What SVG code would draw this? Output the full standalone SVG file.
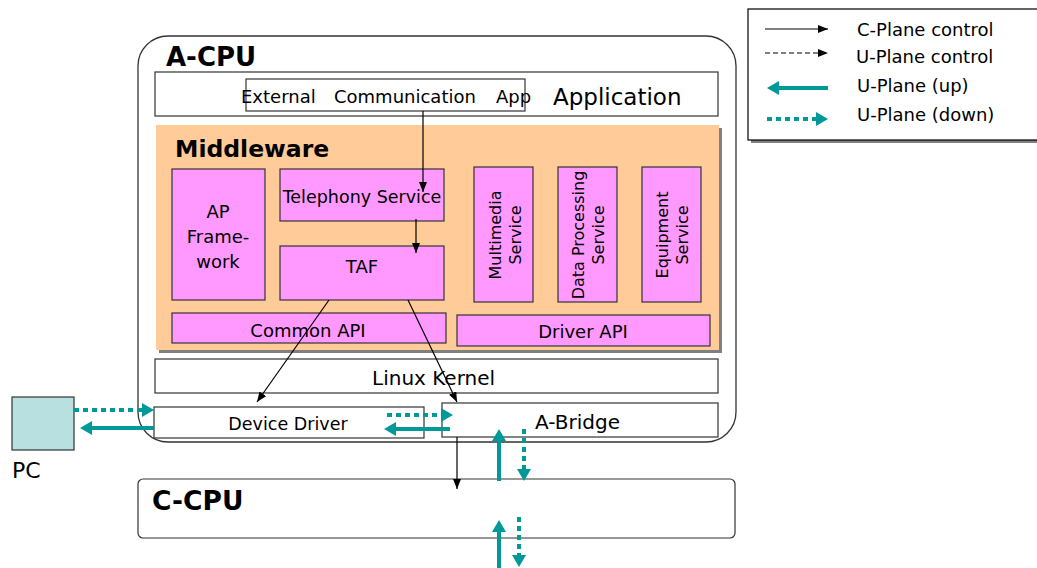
<svg xmlns="http://www.w3.org/2000/svg" width="1037" height="568" viewBox="0 0 1037 568">
<style>
text{font-family:"DejaVu Sans",Verdana,sans-serif;fill:#000}
.box{fill:#fff;stroke:#333;stroke-width:1.2}
.pink{fill:#ff99ff;stroke:#333;stroke-width:1.2}
.c{stroke:#000;stroke-width:1.2;fill:none}
.tu{stroke:#009999;stroke-width:4;fill:none}
.td{stroke:#009999;stroke-width:4;fill:none;stroke-dasharray:5 4}
.b{font-weight:bold}
</style>
<defs>
<marker id="ab" markerUnits="userSpaceOnUse" markerWidth="10" markerHeight="8" refX="10" refY="4" orient="auto"><path d="M0,0 L10,4 L0,8 z" fill="#000"/></marker>
<marker id="at" markerUnits="userSpaceOnUse" markerWidth="12" markerHeight="14" refX="1" refY="7" orient="auto"><path d="M0,0 L12,7 L0,14 z" fill="#009999"/></marker>
</defs>

<g id="legend">
<rect x="751" y="12" width="300" height="131" fill="#808080"/>
<rect x="748" y="9" width="300" height="131" fill="#fff" stroke="#000" stroke-width="1.2"/>
<line x1="765" y1="29" x2="828" y2="29" class="c" stroke-width="1.5" marker-end="url(#ab)"/>
<line x1="765" y1="53" x2="828" y2="53" class="c" stroke-width="1.5" stroke-dasharray="5 3" marker-end="url(#ab)"/>
<line x1="828" y1="88" x2="778" y2="88" class="tu" marker-end="url(#at)"/>
<line x1="767" y1="119" x2="817" y2="119" class="td" marker-end="url(#at)"/>
<text x="857" y="36" font-size="18">C-Plane control</text>
<text x="856" y="63" font-size="18">U-Plane control</text>
<text x="857" y="92" font-size="18">U-Plane (up)</text>
<text x="857" y="121" font-size="18">U-Plane (down)</text>
</g>

<g id="acpu">
<rect x="138" y="36" width="598" height="406" rx="30" ry="30" fill="#fff" stroke="#333" stroke-width="1.3"/>
<text x="166" y="66" font-size="26" class="b">A-CPU</text>
</g>

<g id="application">
<rect x="155" y="72" width="563" height="44" class="box"/>
<text x="553" y="105" font-size="23">Application</text>
</g>

<g id="extcomm">
<rect x="246" y="79" width="279" height="32" fill="none" stroke="#333" stroke-width="1.2"/>
<text x="241" y="103" font-size="18">External</text>
<text x="334" y="103" font-size="18">Communication</text>
<text x="496" y="103" font-size="18">App</text>
</g>

<g id="middleware">
<rect x="159" y="128" width="563" height="225" fill="#808080"/>
<rect x="156" y="125" width="563" height="225" fill="#ffcc99"/>
<text x="175" y="157" font-size="23.5" class="b">Middleware</text>
</g>

<g id="apframework">
<rect x="172" y="169" width="93" height="131" class="pink"/>
<text x="218" y="218" font-size="18" text-anchor="middle">AP</text>
<text x="218" y="243" font-size="18" text-anchor="middle">Frame-</text>
<text x="218" y="268" font-size="18" text-anchor="middle">work</text>
</g>

<g id="telephony">
<rect x="280" y="169" width="164" height="52" class="pink"/>
<text x="362" y="203" font-size="17.5" text-anchor="middle">Telephony Service</text>
</g>

<g id="taf">
<rect x="280" y="246" width="164" height="54" class="pink"/>
<text x="362" y="273" font-size="18" text-anchor="middle">TAF</text>
</g>

<g id="commonapi">
<rect x="172" y="313" width="274" height="30" class="pink"/>
<text x="308" y="337" font-size="18" text-anchor="middle">Common API</text>
</g>

<g id="multimedia">
<rect x="474" y="167" width="59" height="135" class="pink"/>
<text transform="translate(501,235) rotate(-90)" font-size="16" text-anchor="middle">Multimedia</text>
<text transform="translate(521,235) rotate(-90)" font-size="16" text-anchor="middle">Service</text>
</g>

<g id="dataprocessing">
<rect x="558" y="167" width="59" height="135" class="pink"/>
<text transform="translate(584,235) rotate(-90)" font-size="16" text-anchor="middle">Data Processing</text>
<text transform="translate(604,235) rotate(-90)" font-size="16" text-anchor="middle">Service</text>
</g>

<g id="equipment">
<rect x="642" y="167" width="59" height="135" class="pink"/>
<text transform="translate(668,235) rotate(-90)" font-size="16" text-anchor="middle">Equipment</text>
<text transform="translate(688,235) rotate(-90)" font-size="16" text-anchor="middle">Service</text>
</g>

<g id="driverapi">
<rect x="457" y="315" width="253" height="31" class="pink"/>
<text x="583" y="338" font-size="18" text-anchor="middle">Driver API</text>
</g>

<g id="linuxkernel">
<rect x="155" y="359" width="563" height="34" class="box"/>
<text x="372" y="385" font-size="20">Linux Kernel</text>
</g>

<g id="devicedriver">
<rect x="154" y="407" width="270" height="31" class="box"/>
<text x="288" y="430" font-size="17.5" text-anchor="middle">Device Driver</text>
</g>

<g id="abridge">
<rect x="442" y="403" width="276" height="34" class="box"/>
<text x="535" y="429" font-size="20">A-Bridge</text>
</g>

<g id="pc">
<rect x="12" y="397" width="62" height="53" fill="#b8e0e0" stroke="#333" stroke-width="1.2"/>
<text x="12" y="478" font-size="22">PC</text>
</g>

<g id="ccpu">
<rect x="138" y="479" width="597" height="59" rx="5" ry="5" fill="#fff" stroke="#333" stroke-width="1.2"/>
<text x="152" y="510" font-size="26.5" class="b">C-CPU</text>
</g>

<g id="connectors">
<line x1="423" y1="111" x2="423" y2="192" class="c" marker-end="url(#ab)"/>
<line x1="416" y1="219" x2="416" y2="253" class="c" marker-end="url(#ab)"/>
<line x1="329" y1="300" x2="257" y2="402" class="c" marker-end="url(#ab)"/>
<line x1="408" y1="300" x2="457" y2="402" class="c" marker-end="url(#ab)"/>
<line x1="457" y1="437" x2="457" y2="489" class="c" marker-end="url(#ab)"/>
<line x1="74" y1="410" x2="143" y2="410" class="td" marker-end="url(#at)"/>
<line x1="154" y1="428" x2="91" y2="428" class="tu" marker-end="url(#at)"/>
<line x1="387" y1="415" x2="442" y2="415" class="td" marker-end="url(#at)"/>
<line x1="450" y1="429" x2="395" y2="429" class="tu" marker-end="url(#at)"/>
<line x1="499" y1="481" x2="499" y2="440" class="tu" marker-end="url(#at)"/>
<line x1="524" y1="429" x2="524" y2="470" class="td" marker-end="url(#at)"/>
<line x1="499" y1="568" x2="499" y2="531" class="tu" marker-end="url(#at)"/>
<line x1="519" y1="517" x2="519" y2="556" class="td" marker-end="url(#at)"/>
</g>
</svg>
